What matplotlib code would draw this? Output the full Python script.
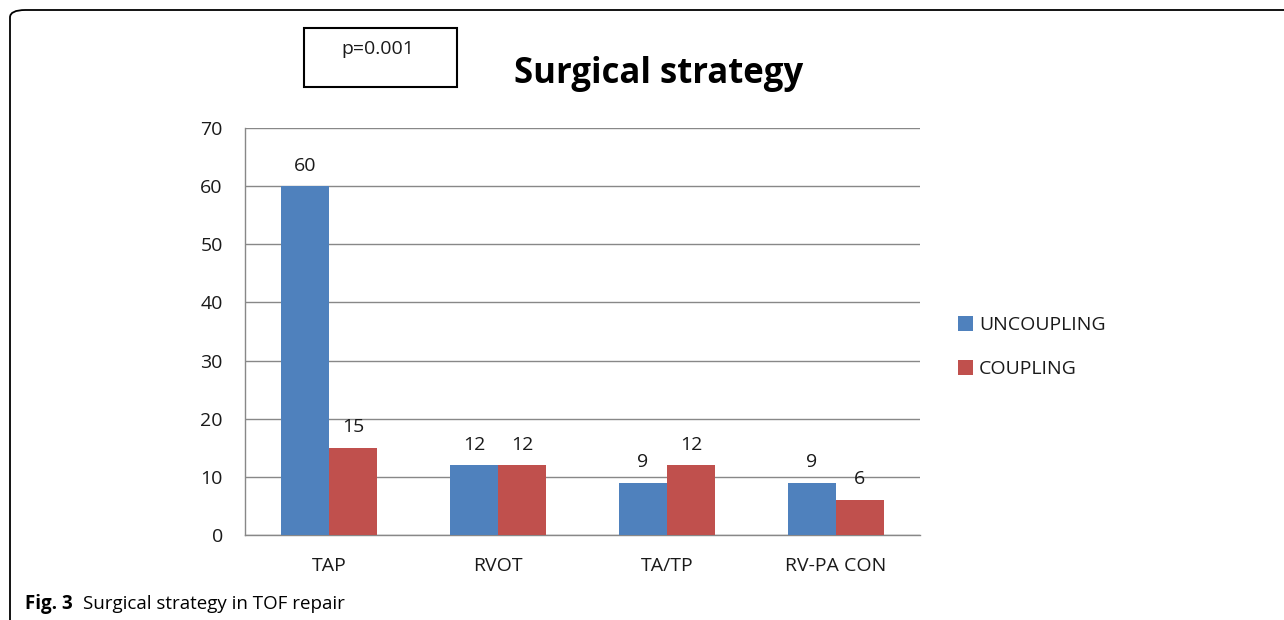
import matplotlib
matplotlib.use("Agg")
import matplotlib.pyplot as plt
from matplotlib.patches import FancyBboxPatch, Rectangle
import numpy as np

categories = ["TAP", "RVOT", "TA/TP", "RV-PA CON"]
uncoupling = [60, 12, 9, 9]
coupling = [15, 12, 12, 6]
series_names = ["UNCOUPLING", "COUPLING"]
yticks = [0, 10, 20, 30, 40, 50, 60, 70]

plt.rcParams['font.family'] = ['Open Sans', 'DejaVu Sans']

fig = plt.figure(figsize=(12.84, 6.2), dpi=100)
W, H = 1284, 620

def fx(x): return x / W
def fy(y): return 1 - y / H

TXT = '#1a1a1a'
FS = 14

# outer rounded frame
frame = FancyBboxPatch((fx(10), fy(640)), fx(1300) - fx(10), fy(10) - fy(640),
                       boxstyle="round,pad=0,rounding_size=0.012",
                       transform=fig.transFigure, fill=False, edgecolor='black',
                       linewidth=1.3, clip_on=False)
fig.patches.append(frame)

ax = fig.add_axes([fx(245), fy(535), fx(920) - fx(245), fy(128) - fy(535)])
x = np.arange(len(categories))
w = 0.285
b1 = ax.bar(x - w / 2, uncoupling, w, color='#4F81BD', label=series_names[0], zorder=3)
b2 = ax.bar(x + w / 2, coupling, w, color='#C0504D', label=series_names[1], zorder=3)
for bars, vals in ((b1, uncoupling), (b2, coupling)):
    for rect, v in zip(bars, vals):
        ax.text(rect.get_x() + rect.get_width() / 2, v + 2.0, str(v),
                ha='center', va='bottom', fontsize=FS, color=TXT)

ax.set_xlim(-0.5, len(categories) - 0.5)
ax.set_ylim(0, 70)
ax.set_yticks(yticks)
ax.set_yticklabels([str(t) for t in yticks], fontsize=FS, color=TXT)
ax.set_xticks(x)
ax.set_xticklabels(categories, fontsize=FS, color=TXT)
ax.tick_params(axis='y', length=0, pad=16)
ax.tick_params(axis='x', length=0, pad=16)
ax.grid(axis='y', color='#888888', linewidth=1, zorder=0)
for s in ['top', 'right']:
    ax.spines[s].set_visible(False)
for s in ['left', 'bottom']:
    ax.spines[s].set_color('#888888')
    ax.spines[s].set_linewidth(1)

# legend
leg = fig.legend(handles=[b1, b2], labels=series_names, loc='center left',
                 bbox_to_anchor=(fx(940), fy(347)), frameon=False, fontsize=FS,
                 handlelength=0.8, handleheight=0.8, handletextpad=0.3,
                 labelspacing=1.35)
for t in leg.get_texts():
    t.set_color(TXT)

# title
fig.text(fx(659), fy(74), "Surgical strategy", ha='center', va='center',
         fontsize=25, fontweight='bold')

# p box
fig.patches.append(Rectangle((fx(304), fy(87)), fx(457) - fx(304), fy(28) - fy(87),
                             transform=fig.transFigure, fill=False,
                             edgecolor='black', linewidth=1.5))
fig.text(fx(378), fy(49), "p=0.001", ha='center', va='center', fontsize=14,
         color=TXT)

# caption
fig.text(fx(25), fy(604), r"Fig. 3", ha='left', va='center', fontsize=13.5,
         fontweight='bold')
fig.text(fx(83), fy(604), "Surgical strategy in TOF repair", ha='left',
         va='center', fontsize=13.5)

fig.savefig("out.png", dpi=100)
